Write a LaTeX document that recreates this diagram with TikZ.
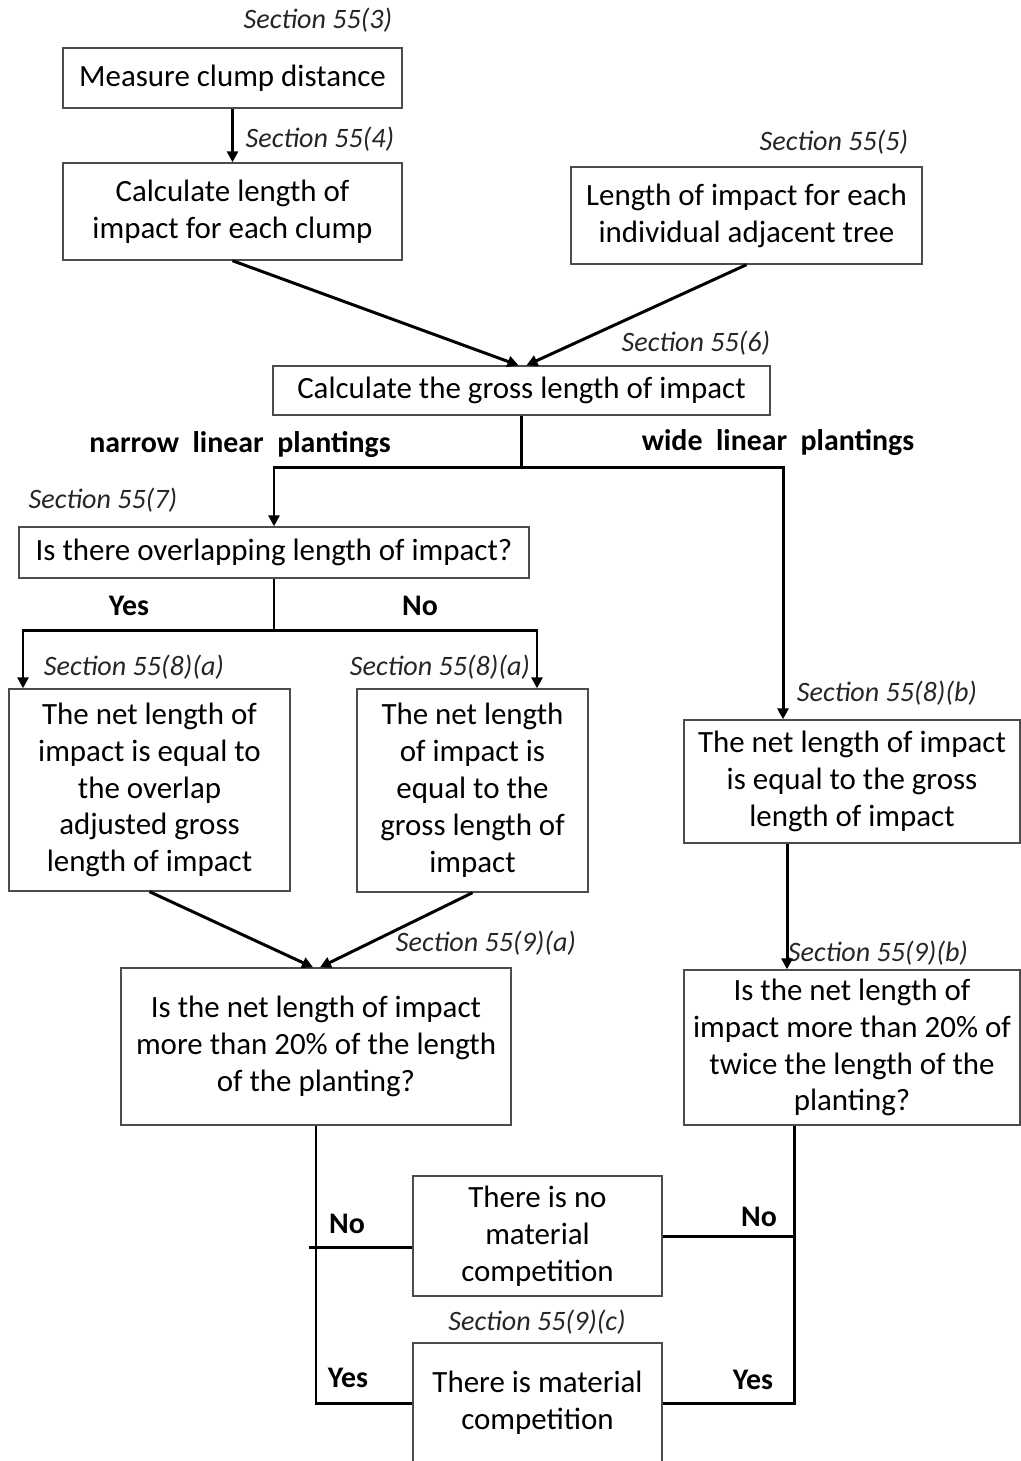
\documentclass[tikz,border=0pt]{standalone}
\usepackage{fontspec}
\setmainfont{Carlito}
\usetikzlibrary{arrows.meta,calc}

\tikzset{
  box/.style={draw=black!70, line width=0.8pt, align=center, inner sep=0pt,
    font=\fontsize{17.6pt}{21pt}\selectfont},
  sect/.style={inner sep=0pt, font=\fontsize{16pt}{19pt}\selectfont\itshape, text=black!85},
  lbl/.style={inner sep=0pt, font=\fontsize{17pt}{20pt}\selectfont\bfseries},
  line/.style={line width=1.7pt},
  arr/.style={line width=1.7pt, -{Triangle[length=0.22cm,width=0.22cm]}},
}

\begin{document}
\begin{tikzpicture}[x=0.02cm, y=-0.02cm]
  \useasboundingbox (0,0) rectangle (1021,1461);
  % boxes
  \node[box, minimum width=6.78cm, minimum height=1.2cm] (measure) at (232.5,78) {Measure\ clump distance};
  \node[box, minimum width=6.78cm, minimum height=1.94cm] (clump) at (232.5,211.5) {Calculate length of\\impact for each clump};
  \node[box, minimum width=7.02cm, minimum height=1.94cm] (tree) at (746.5,215.5) {Length of impact for each\\individual adjacent tree};
  \node[box, minimum width=9.94cm, minimum height=0.98cm] (gross) at (521.5,390.5) {Calculate the gross length of impact};
  \node[box, minimum width=10.2cm, minimum height=1.02cm] (overlap) at (274,552.5) {Is there overlapping length of impact?};
  \node[box, minimum width=5.62cm, minimum height=4.04cm] (netov) at (149.5,790) {The net length of\\impact is equal to\\the overlap\\adjusted gross\\length of impact};
  \node[box, minimum width=4.62cm, minimum height=4.06cm] (neteq) at (472.5,790.5) {The net length\\of impact is\\equal to the\\gross length of\\impact};
  \node[box, minimum width=6.72cm, minimum height=2.46cm] (netwide) at (852,781.5) {The net length of impact\\is equal to the gross\\length of impact};
  \node[box, minimum width=7.8cm, minimum height=3.14cm] (qnarrow) at (316,1046.5) {Is the net length of impact\\more than 20\% of the length\\of the planting?};
  \node[box, minimum width=6.72cm, minimum height=3.1cm] (qwide) at (852,1047.5) {Is the net length of\\impact more than 20\% of\\twice the length of the\\planting?};
  \node[box, minimum width=4.98cm, minimum height=2.4cm] (nomat) at (537.5,1236) {There is no\\material\\competition};
  \node[box, minimum width=4.98cm, minimum height=2.4cm] (mat) at (537.5,1403) {There is material\\competition};

  % section labels
  \node[sect] (s3) at (318,20) {Section 55(3)};
  \node[sect] (s4) at (320,139) {Section 55(4)};
  \node[sect] (s5) at (834,142) {Section 55(5)};
  \node[sect] (s6) at (696,343) {Section 55(6)};
  \node[sect] (s7) at (103,500) {Section 55(7)};
  \node[sect] (s8a1) at (134,667) {Section 55(8)(a)};
  \node[sect] (s8a2) at (440,667) {Section 55(8)(a)};
  \node[sect] (s8b) at (887,693) {Section 55(8)(b)};
  \node[sect] (s9a) at (486,943) {Section 55(9)(a)};
  \node[sect] (s9b) at (878,953) {Section 55(9)(b)};
  \node[sect] (s9c) at (537,1322) {Section 55(9)(c)};

  % branch labels
  \node[lbl] (narrow) at (240,445) {narrow\ \ linear\ \ plantings};
  \node[lbl] (wide) at (778,443) {wide\ \ linear\ \ plantings};
  \node[lbl] (yes1) at (129,606) {Yes};
  \node[lbl] (no1) at (420,606) {No};
  \node[lbl] (no2) at (347,1224) {No};
  \node[lbl] (no3) at (759,1217) {No};
  \node[lbl] (yes2) at (348,1378) {Yes};
  \node[lbl] (yes3) at (753,1380) {Yes};

  % connectors
  \draw[arr] (measure) -- (clump);
  \draw[arr] (clump.south) -- ($(gross.north)+(-3,0)$);
  \draw[arr] (tree.south) -- ($(gross.north)+(5,0)$);
  \coordinate (split1) at (521.5,467);
  \draw[line] (gross.south) -- (split1);
  \draw[arr] (split1) -| (overlap.north);
  \draw[arr] (split1) -| ($(netwide.north)+(-69,0)$);
  \coordinate (split2) at (274,630);
  \draw[line] (overlap.south) -- (split2);
  \draw[arr] (split2) -| ($(netov.north)+(-126.5,0)$);
  \draw[arr] (split2) -| ($(neteq.north)+(64.5,0)$);
  \draw[arr] (netov.south) -- ($(qnarrow.north)+(-3,0)$);
  \draw[arr] (neteq.south) -- ($(qnarrow.north)+(4,0)$);
  \draw[arr] ($(netwide.south)+(-65,0)$) -- ($(qwide.north)+(-65,0)$);
  \draw[line] (qnarrow.south) |- (mat.west);
  \draw[line] ($(nomat.west)+(0,11)$) -- ++(-103,0);
  \draw[line] ($(qwide.south)+(-58,0)$) |- (mat.east);
  \draw[line] (nomat.east) -- ++(132,0);
\end{tikzpicture}
\end{document}
